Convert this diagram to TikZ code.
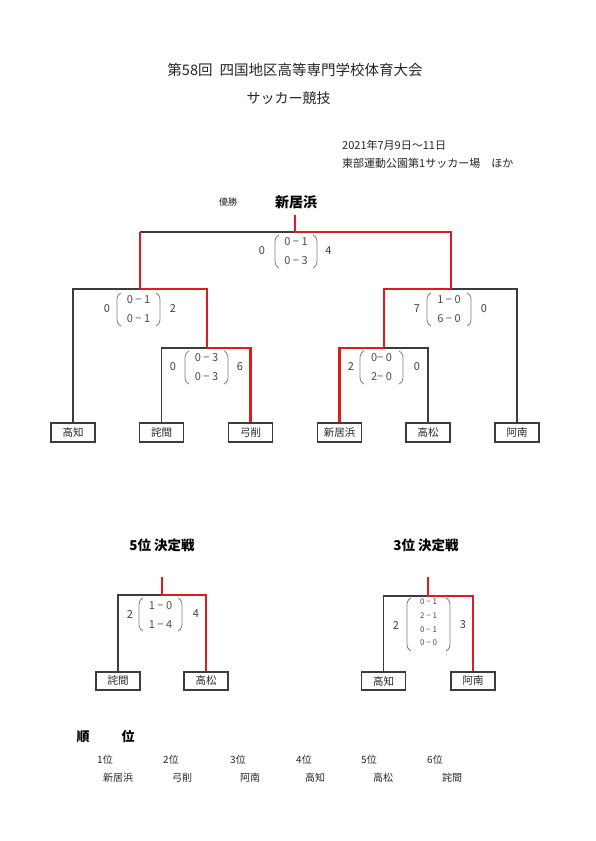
\documentclass[tikz,border=0pt]{standalone}
\usepackage{fontspec}
\setmainfont{Noto Sans CJK JP}
\newcommand\myfs[1]{\fontsize{#1}{#1}\selectfont}
\definecolor{myred}{RGB}{220,28,32}
\definecolor{myline}{RGB}{60,60,60}
\newcommand\mypar[4]{%
  \draw[paren] ({#1+4},#3) .. controls (#1,{#3+2}) and (#1,{#3+5}) .. (#1,{#3+9}) -- (#1,{#4-9}) .. controls (#1,{#4-5}) and (#1,{#4-2}) .. ({#1+4},#4);
  \draw[paren] ({#2-4},#3) .. controls (#2,{#3+2}) and (#2,{#3+5}) .. (#2,{#3+9}) -- (#2,{#4-9}) .. controls (#2,{#4-5}) and (#2,{#4-2}) .. ({#2-4},#4);}
\begin{document}
\begin{tikzpicture}[x=1pt,y=-1pt,
  team/.style={draw=myline, line width=1.2pt, minimum width=44pt, minimum height=19pt, inner sep=0pt, font=\myfs{10.5}, text=black!85},
  loser/.style={draw=myline, line width=1.3pt},
  winner/.style={draw=myred, line width=2.6pt},
  score/.style={font=\myfs{11}, text=black!70, align=center, inner sep=0pt},
  side/.style={font=\myfs{11}, text=black!75, inner sep=0pt},
  paren/.style={draw=black!50, line width=0.8pt},
  txt/.style={inner sep=0pt, text=black!85},
  head/.style={inner sep=0pt, font=\myfs{13.5}\bfseries, text=black}]
\useasboundingbox (0,0) rectangle (595,841);
\fill[white] (0,0) rectangle (595,841);

% titles
\node[txt, font=\myfs{14.5}] (title) at (295,70) {第58回\hspace{7pt}四国地区高等専門学校体育大会};
\node[txt, font=\myfs{14}] (sub) at (288.5,98) {サッカー競技};
\node[txt, font=\myfs{11}, anchor=west] (date) at (342,145) {2021年7月9日～11日};
\node[txt, font=\myfs{11}, anchor=west] (place) at (342,163) {東部運動公園第1サッカー場\hspace{11pt}ほか};
\node[txt, font=\myfs{9}] (yusho) at (228,202) {優勝};
\node[head, font=\myfs{14}\bfseries] (champ) at (296,202) {新居浜};

% teams
\node[team] (t1) at (73,432.5) {高知};
\node[team] (t2) at (161.5,432.5) {詫間};
\node[team] (t3) at (250.5,432.5) {弓削};
\node[team] (t4) at (339.5,432.5) {新居浜};
\node[team] (t5) at (428,432.5) {高松};
\node[team] (t6) at (517,432.5) {阿南};

% junctions
\coordinate (fT) at (295,215); \coordinate (fM) at (295,232);
\coordinate (fL) at (140,232); \coordinate (fR) at (451,232);
\coordinate (sL) at (140,289); \coordinate (sLl) at (73,289); \coordinate (sLr) at (207,289);
\coordinate (qL) at (207,348); \coordinate (qLl) at (161.5,348); \coordinate (qLr) at (250.5,348);
\coordinate (sR) at (451,289); \coordinate (sRl) at (384,289); \coordinate (sRr) at (517,289);
\coordinate (qR) at (384,348); \coordinate (qRl) at (339.5,348); \coordinate (qRr) at (428,348);

\draw[loser] (fM) -- (fL);
\draw[loser] (sL) -- (sLl) -- (t1.north);
\draw[loser] (qL) -- (qLl) -- (t2.north);
\draw[loser] (sR) -- (sRr) -- (t6.north);
\draw[loser] (qR) -- (qRr) -- (t5.north);
\draw[winner] (fT) -- (fM) -- (fR) -- (sR);
\draw[winner] (fL) -- (sL);
\draw[winner] (sL) -- (sLr) -- (qL);
\draw[winner] (qL) -- (qLr) -- (t3.north);
\draw[winner] (sR) -- (sRl) -- (qR);
\draw[winner] (qR) -- (qRl) -- (t4.north);

% scores main
\node[side] (f1) at (262,251) {0};
\mypar{275}{317}{235}{268}
\node[score] (fs) at (296,251.5) {0 − 1\\[8pt]0 − 3};
\node[side] (f2) at (328.5,251) {4};

\node[side] (a1) at (107,309) {0};
\mypar{117}{160}{293}{326}
\node[score] (as) at (138.5,309) {0 − 1\\[8pt]0 − 1};
\node[side] (a2) at (173,309) {2};

\node[side] (b1) at (173,367) {0};
\mypar{185}{228}{351}{384}
\node[score] (bs) at (206.5,367) {0 − 3\\[8pt]0 − 3};
\node[side] (b2) at (240,367) {6};

\node[side] (c1) at (417,309) {7};
\mypar{427}{471}{293}{326}
\node[score] (cs) at (449,309) {1 − 0\\[8pt]6 − 0};
\node[side] (c2) at (484,309) {0};

\node[side] (d1) at (351,367) {2};
\mypar{360}{403}{351}{384}
\node[score] (ds) at (381.5,367) {0− 0\\[8pt]2− 0};
\node[side] (d2) at (417,367) {0};

% 5th place
\node[head] (h5) at (162,545) {5位 決定戦};
\node[team, minimum height=18pt] (p1) at (118,681) {詫間};
\node[team, minimum height=18pt] (p2) at (206,681) {高松};
\coordinate (c5T) at (162,577); \coordinate (c5M) at (162,595);
\coordinate (c5L) at (118,595); \coordinate (c5R) at (206,595);
\draw[loser] (c5M) -- (c5L) -- (p1.north);
\draw[winner] (c5T) -- (c5M) -- (c5R) -- (p2.north);
\node[side] (e1) at (130,614) {2};
\mypar{139}{182}{598}{631}
\node[score] (es) at (160.5,614.5) {1 − 0\\[8pt]1 − 4};
\node[side] (e2) at (196,614) {4};

% 3rd place
\node[head] (h3) at (426,545) {3位 決定戦};
\node[team, minimum height=18pt] (r1) at (383.5,681) {高知};
\node[team, minimum height=18pt] (r2) at (473,681) {阿南};
\coordinate (c3T) at (428,577); \coordinate (c3M) at (428,596);
\coordinate (c3L) at (383.5,596); \coordinate (c3R) at (473,596);
\draw[loser] (c3M) -- (c3L) -- (r1.north);
\draw[winner] (c3T) -- (c3M) -- (c3R) -- (r2.north);
\node[side] (g1) at (396,625) {2};
\mypar{407}{450}{598}{651}
\node[score, font=\myfs{8}] (gs) at (428.5,622.5) {0 − 1\\[5.7pt]2 − 1\\[5.7pt]0 − 1\\[5.7pt]0 − 0};
\node[side] (g2) at (463,625) {3};

% ranking
\node[head, font=\myfs{13}\bfseries] (jun) at (83,737) {順};
\node[head, font=\myfs{13}\bfseries] (i) at (128,737) {位};
\node[txt, font=\myfs{10}, anchor=west] (r1t) at (97,760) {1位};
\node[txt, font=\myfs{10}, anchor=west] (r2t) at (163,760) {2位};
\node[txt, font=\myfs{10}, anchor=west] (r3t) at (230,760) {3位};
\node[txt, font=\myfs{10}, anchor=west] (r4t) at (296,760) {4位};
\node[txt, font=\myfs{10}, anchor=west] (r5t) at (361,760) {5位};
\node[txt, font=\myfs{10}, anchor=west] (r6t) at (427,760) {6位};
\node[txt, font=\myfs{10}] (n1) at (118,778) {新居浜};
\node[txt, font=\myfs{10}] (n2) at (182,778) {弓削};
\node[txt, font=\myfs{10}] (n3) at (250,778) {阿南};
\node[txt, font=\myfs{10}] (n4) at (315,778) {高知};
\node[txt, font=\myfs{10}] (n5) at (383,778) {高松};
\node[txt, font=\myfs{10}] (n6) at (452,778) {詫間};
\end{tikzpicture}
\end{document}
